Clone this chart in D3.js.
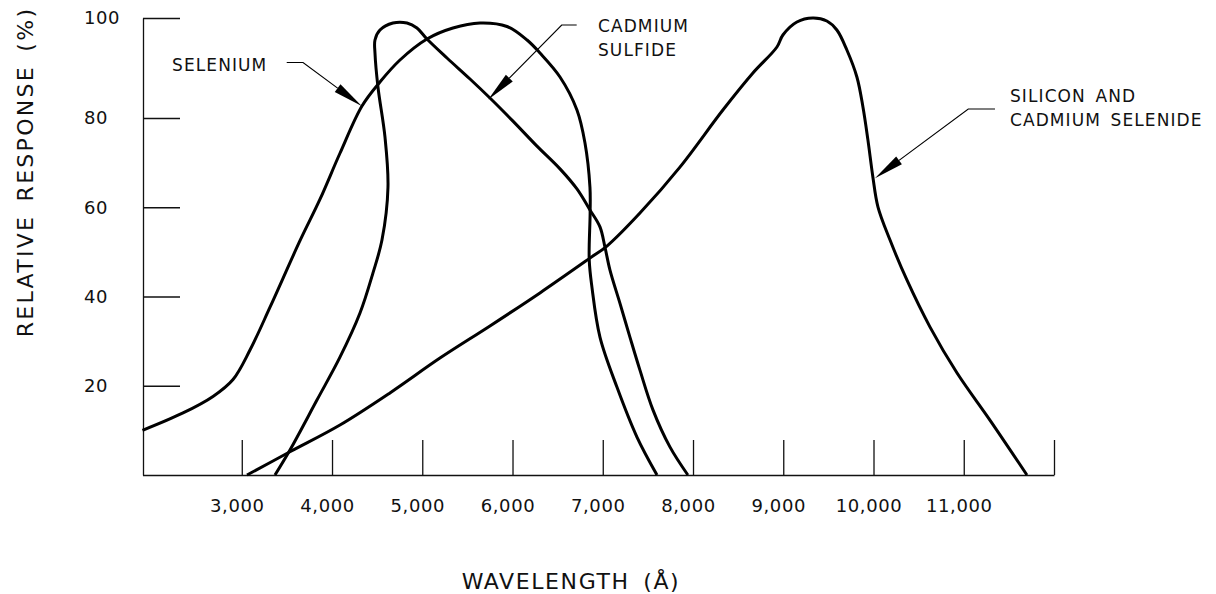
<!DOCTYPE html>
<html>
<head>
<meta charset="utf-8">
<script src="https://cdn.jsdelivr.net/npm/d3@7"></script>
<style>
body { margin: 0; background: #fff; }
svg { display: block; }
text { font-family: "DejaVu Sans", sans-serif; fill: #111; }
.axis path, .axis line { stroke: #111; stroke-width: 1.3; }
.curve { fill: none; stroke: #000; stroke-width: 3; stroke-linejoin: round; }
.leader { fill: none; stroke: #000; stroke-width: 1.2; }
</style>
</head>
<body>
<div id="chart"></div>
<script>
// spectral response curves (wavelength in angstrom, response in %)
var selenium_wl   = [1900, 2349, 2681, 2903, 3091, 3313, 3645, 3867, 4088, 4332, 4531, 4753, 5052, 5340, 5640, 5939, 6161, 6304, 6526, 6714, 6803, 6858, 6860, 6850, 6880, 6969, 7157, 7379, 7601];
var selenium_resp = [10, 13.9, 17.6, 21.4, 28, 37.6, 52.5, 61.8, 72.1, 82.4, 87.2, 91.6, 95.8, 98, 99, 98.3, 95.6, 93, 88.2, 81.6, 74.4, 64.5, 58.7, 48.2, 42.1, 30.9, 19.7, 8.5, 0];

var cds_wl   = [3368, 3534, 3833, 4088, 4310, 4454, 4554, 4620, 4587, 4509, 4476, 4476, 4531, 4675, 4831, 4941, 5052, 5274, 5529, 5750, 6005, 6271, 6526, 6714, 6858, 6969, 7024, 7080, 7190, 7301, 7412, 7556, 7744, 7943];
var cds_resp = [0, 5.6, 16.8, 26.4, 36.3, 45.3, 52.7, 64.5, 75.7, 86.2, 93, 95.6, 97.6, 99, 99, 98, 95.8, 92, 87.8, 84, 79.3, 73.7, 68.6, 64.1, 59.4, 55.6, 51.1, 45.9, 38.5, 30.9, 23.5, 14.6, 6.3, 0];

var si_wl   = [3058, 3534, 4088, 4642, 5196, 5750, 6304, 6858, 7046, 7412, 7855, 8331, 8664, 8930, 8996, 9151, 9328, 9483, 9594, 9705, 9816, 9883, 9938, 9993, 10049, 10182, 10370, 10625, 10924, 11290, 11700];
var si_resp = [0, 5.2, 11.2, 18.4, 26.2, 33.4, 40.8, 48.6, 51.3, 58.7, 69, 81.6, 89, 94.2, 96.6, 99.2, 100, 99.4, 97.6, 93.6, 88.2, 82.2, 75.1, 66.8, 60.1, 52.7, 43.7, 33.2, 22.9, 12.3, 0];

var x_ticks = [3000, 4000, 5000, 6000, 7000, 8000, 9000, 10000, 11000, 12000];
var y_ticks = [20, 40, 60, 80, 100];

// callouts: label lines, label position, leader start, elbow, arrow tip (data units)
var note_labels = [["SELENIUM"], ["CADMIUM", "SULFIDE"], ["SILICON AND", "CADMIUM SELENIDE"]];
var note_text_at = [[2227, 89.5], [6947, 97.3], [11512, 83.3]];
var note_start   = [[3498, 91.1], [6711, 98.6], [11346, 81.8]];
var note_elbow   = [[3679, 91.1], [6545, 98.6], [11050, 81.8]];
var note_tip     = [[4329, 82.4], [5731, 83.7], [10016, 66.5]];

var W = 1216, H = 594;

var svg = d3.select("#chart").append("svg")
    .attr("width", W)
    .attr("height", H);

var x = d3.scaleLinear().domain([1900, 12000]).range([142.5, 1054]);
// the drawing puts 100 a bit higher than a straight scale would
var y = d3.scaleLinear().domain([0, 80, 100]).range([475, 118, 18]);

var xa = svg.append("g")
    .attr("class", "axis")
    .attr("transform", "translate(0,475)")
    .call(d3.axisBottom(x)
	  .tickValues(x_ticks)
	  .tickSize(-35)
	  .tickSizeOuter(0)
	  .tickPadding(24)
	  .tickFormat(function(d){ return d == 12000 ? "" : d3.format(",")(d); }));
xa.selectAll("text")
    .attr("x", -5)
    .style("font-size", "18px")
    .style("letter-spacing", "0.6px")
    .style("font-family", "'DejaVu Sans', sans-serif");

var ya = svg.append("g")
    .attr("class", "axis")
    .attr("transform", "translate(143,0)")
    .call(d3.axisLeft(y)
	  .tickValues(y_ticks)
	  .tickSize(-37)
	  .tickSizeOuter(0));
ya.selectAll("text")
    .attr("x", -59)
    .attr("text-anchor", "start")
    .style("font-size", "18px")
    .style("letter-spacing", "0.6px")
    .style("font-family", "'DejaVu Sans', sans-serif");

svg.selectAll(".axis .domain").attr("fill", "none");

var line = d3.line()
    .x(function(d){ return x(d[0]); })
    .y(function(d){ return y(d[1]); })
    .curve(d3.curveCatmullRom.alpha(0.5));

var series = [[selenium_wl, selenium_resp], [cds_wl, cds_resp], [si_wl, si_resp]];

svg.selectAll(".curve")
    .data(series)
    .enter()
    .append("path")
    .attr("class", "curve")
    .attr("d", function(s){
	return line(d3.zip(s[0], s[1]));
    });

// callouts
note_labels.forEach(function(lines, i){
    var p0 = [x(note_start[i][0]), y(note_start[i][1])];
    var p1 = [x(note_elbow[i][0]), y(note_elbow[i][1])];
    var p2 = [x(note_tip[i][0]), y(note_tip[i][1])];

    var dx = p2[0] - p1[0], dy = p2[1] - p1[1];
    var len = Math.sqrt(dx * dx + dy * dy);
    var ux = dx / len, uy = dy / len;
    var head = 30, half = 4.8;
    var bx = p2[0] - ux * head, by = p2[1] - uy * head;

    svg.append("path")
	.attr("class", "leader")
	.attr("d", "M" + p0 + "L" + p1 + "L" + [bx, by]);

    svg.append("path")
	.attr("d", "M" + p2 + "L" + [bx - uy * half, by + ux * half]
	      + "L" + [bx + uy * half, by - ux * half] + "Z")
	.attr("fill", "#000");

    var t = svg.append("text")
	.attr("x", x(note_text_at[i][0]))
	.attr("y", y(note_text_at[i][1]))
	.style("font-size", "17px")
	.style("letter-spacing", "1.1px")
	.style("word-spacing", "3px");
    lines.forEach(function(l, j){
	t.append("tspan")
	    .attr("x", x(note_text_at[i][0]))
	    .attr("dy", j == 0 ? 0 : 24.5)
	    .text(l);
    });
});

// axis titles
svg.append("text")
    .attr("transform", "translate(33,172) rotate(-90)")
    .attr("text-anchor", "middle")
    .style("font-size", "22px")
    .style("letter-spacing", "2.3px")
    .style("word-spacing", "4px")
    .text("RELATIVE RESPONSE (%)");

svg.append("text")
    .attr("x", 571)
    .attr("y", 589)
    .attr("text-anchor", "middle")
    .style("font-size", "22px")
    .style("letter-spacing", "1.6px")
    .style("word-spacing", "5px")
    .text("WAVELENGTH (Å)");
</script>
</body>
</html>
